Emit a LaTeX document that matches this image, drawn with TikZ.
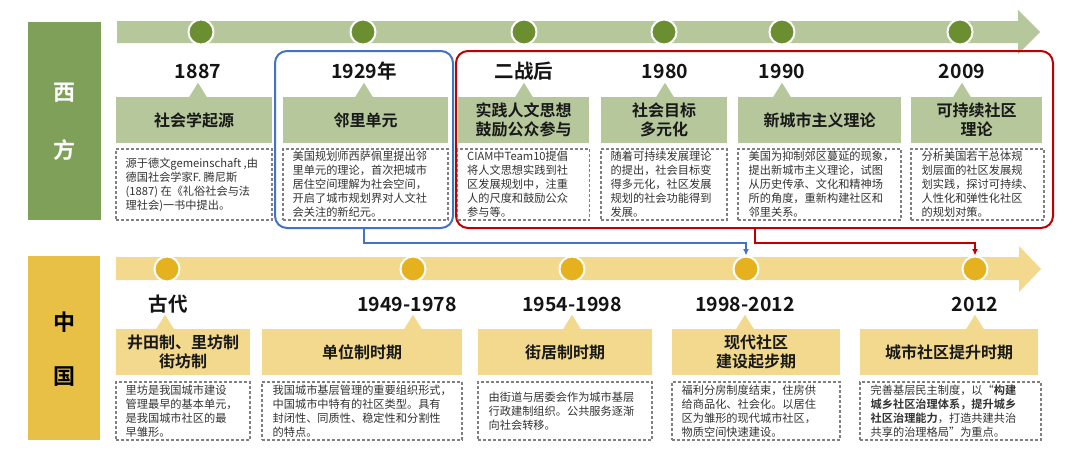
\documentclass[tikz,border=0pt]{standalone}
\usepackage{fontspec}
\setmainfont{Noto Sans CJK SC}[BoldFont={Noto Sans CJK SC Bold}]
\usetikzlibrary{arrows.meta}
\definecolor{gSide}{HTML}{7FA059}
\definecolor{gDark}{HTML}{6B8E31}
\definecolor{gLight}{HTML}{B5C79B}
\definecolor{ySide}{HTML}{E8C046}
\definecolor{yDark}{HTML}{E5B11E}
\definecolor{yLight}{HTML}{F2D98E}
\definecolor{bBlue}{HTML}{4472C4}
\definecolor{rRed}{HTML}{C00000}
\definecolor{txtGray}{HTML}{333333}
\definecolor{dashGray}{HTML}{808080}
\begin{document}
\begin{tikzpicture}[x=1pt,y=-1pt,
  sidetext/.style={font=\fontsize{22}{24}\selectfont\bfseries, inner sep=0},
  circ/.style={circle, fill=#1, draw=white, line width=2pt, minimum size=25pt, inner sep=0},
  yearlbl/.style={font=\fontsize{19.5}{22}\selectfont\bfseries, text=black!92, inner sep=0},
  ttlbox/.style={fill=#1, minimum height=46pt, inner sep=0, align=center,
    font=\fontsize{16}{19.5}\selectfont\bfseries, text=black!90},
  descbox/.style={draw=dashGray, dashed, dash pattern=on 3pt off 2pt, line width=1.1pt, minimum height=#1, inner sep=0},
  desctext/.style={anchor=west, align=left, inner sep=0, text=txtGray,
    font=\fontsize{11.2}{13.9}\selectfont},
  frame/.style={draw=#1, line width=2pt, rounded corners=12pt, inner sep=0},
  link/.style={draw=#1, line width=2pt, -{Latex[length=6.5pt,width=6pt]}}
]
\fill[white] (0,0) rectangle (1080,456);
\useasboundingbox (0,0) rectangle (1080,456);

% ================= WEST =================
\node[fill=gSide, minimum width=73pt, minimum height=198pt, inner sep=0] (wside) at (64.5,121) {};
\node[sidetext, text=white] (w1) at (64.5,93) {西};
\node[sidetext, text=white] (w2) at (64.5,150) {方};

\fill[gLight] (117,21) -- (1018,21) -- (1018,10) -- (1040,32) -- (1018,54) -- (1018,43) -- (117,43) -- cycle;

\node[circ=gDark] (c1) at (201,32) {};
\node[circ=gDark] (c2) at (363,32) {};
\node[circ=gDark] (c3) at (524,32) {};
\node[circ=gDark] (c4) at (664,32) {};
\node[circ=gDark] (c5) at (782,32) {};
\node[circ=gDark] (c6) at (960,32) {};

\node[frame=bBlue, minimum width=178pt, minimum height=177pt] (blue) at (364,139.5) {};
\node[frame=rRed, minimum width=597pt, minimum height=177pt] (red) at (754.5,139.5) {};

\node[yearlbl] (y1) at (198,71) {1887};
\node[yearlbl] (y2) at (364,71) {1929年};
\node[yearlbl] (y3) at (524,71) {二战后};
\node[yearlbl] (y4) at (665,71) {1980};
\node[yearlbl] (y5) at (782,71) {1990};
\node[yearlbl] (y6) at (962,71) {2009};

\node[ttlbox=gLight, minimum width=156pt] (h1) at (194,120) {社会学起源};
\node[ttlbox=gLight, minimum width=165pt] (h2) at (365.5,120) {邻里单元};
\node[ttlbox=gLight, minimum width=131pt] (h3) at (523.5,120) {实践人文思想\\鼓励公众参与};
\node[ttlbox=gLight, minimum width=126pt] (h4) at (664,120) {社会目标\\多元化};
\node[ttlbox=gLight, minimum width=163pt] (h5) at (819.5,120) {新城市主义理论};
\node[ttlbox=gLight, minimum width=131pt] (h6) at (976.5,120) {可持续社区\\理论};

\foreach \y/\h in {y1/h1,y2/h2,y3/h3,y4/h4,y5/h5,y6/h6}{
  \fill[gLight] (\y |- \h.north) +(-9,0.5) -- +(0,-14) -- +(9,0.5) -- cycle;
}

\node[descbox=71pt, minimum width=156pt] (d1) at (194,184.5) {};
\node[descbox=71pt, minimum width=165pt] (d2) at (365.5,184.5) {};
\node[descbox=71pt, minimum width=132pt] (d3) at (523.5,184.5) {};
\node[descbox=71pt, minimum width=126pt] (d4) at (664,184.5) {};
\node[descbox=71pt, minimum width=163pt] (d5) at (819.5,184.5) {};
\node[descbox=71pt, minimum width=133pt] (d6) at (977.5,184.5) {};

\node[desctext] (t1) at ([xshift=10pt]d1.west) {源于德文gemeinschaft ,由\\德国社会学家F. 腾尼斯\\(1887) 在《礼俗社会与法\\理社会)一书中提出。};
\node[desctext] (t2) at ([xshift=10pt]d2.west) {美国规划师西萨佩里提出邻\\里单元的理论，首次把城市\\居住空间理解为社会空间，\\开启了城市规划界对人文社\\会关注的新纪元。};
\node[desctext] (t3) at ([xshift=10pt]d3.west) {CIAM中Team10提倡\\将人文思想实践到社\\区发展规划中，注重\\人的尺度和鼓励公众\\参与等。};
\node[desctext] (t4) at ([xshift=10pt]d4.west) {随着可持续发展理论\\的提出，社会目标变\\得多元化，社区发展\\规划的社会功能得到\\发展。};
\node[desctext] (t5) at ([xshift=11pt]d5.west) {美国为抑制郊区蔓延的现象，\\提出新城市主义理论，试图\\从历史传承、文化和精神场\\所的角度，重新构建社区和\\邻里关系。};
\node[desctext] (t6) at ([xshift=11pt]d6.west) {分析美国若干总体规\\划层面的社区发展规\\划实践，探讨可持续、\\人性化和弹性化社区\\的规划对策。};

% ================= CHINA =================
\node[fill=ySide, minimum width=72pt, minimum height=184pt, inner sep=0] (cside) at (64,348) {};
\node[sidetext, text=black] (z1) at (64,322) {中};
\node[sidetext, text=black] (z2) at (64,377) {国};

\fill[yLight] (116,257) -- (1019,257) -- (1019,246) -- (1041,269) -- (1019,292) -- (1019,280) -- (116,280) -- cycle;

\node[circ=yDark] (e1) at (167,269) {};
\node[circ=yDark] (e2) at (413,269) {};
\node[circ=yDark] (e3) at (572,269) {};
\node[circ=yDark] (e4) at (746,269) {};
\node[circ=yDark] (e5) at (975,269) {};

\node[yearlbl] (x1) at (168,304) {古代};
\node[yearlbl] (x2) at (407,304) {1949-1978};
\node[yearlbl] (x3) at (572,304) {1954-1998};
\node[yearlbl] (x4) at (745,304) {1998-2012};
\node[yearlbl] (x5) at (975,304) {2012};

\node[ttlbox=yLight, minimum width=134pt] (k1) at (183,352) {井田制、里坊制\\街坊制};
\node[ttlbox=yLight, minimum width=200pt] (k2) at (362,352) {单位制时期};
\node[ttlbox=yLight, minimum width=174pt] (k3) at (565,352) {街居制时期};
\node[ttlbox=yLight, minimum width=168pt] (k4) at (756,352) {现代社区\\建设起步期};
\node[ttlbox=yLight, minimum width=178pt] (k5) at (949,352) {城市社区提升时期};

\foreach \e/\k/\dx in {e1/k1/-2,e2/k2/0,e3/k3/0,e4/k4/-1,e5/k5/0}{
  \fill[yLight] ([xshift=\dx pt]\e |- \k.north) +(-9,0.5) -- +(0,-14) -- +(9,0.5) -- cycle;
}

\node[descbox=58pt, minimum width=134pt] (f1) at (183,411) {};
\node[descbox=58pt, minimum width=200pt] (f2) at (362,411) {};
\node[descbox=58pt, minimum width=174pt] (f3) at (565,411) {};
\node[descbox=58pt, minimum width=168pt] (f4) at (756,411) {};
\node[descbox=58pt, minimum width=181pt] (f5) at (950.5,411) {};

\node[desctext] (s1) at ([xshift=10pt]f1.west) {里坊是我国城市建设\\管理最早的基本单元，\\是我国城市社区的最\\早雏形。};
\node[desctext] (s2) at ([xshift=11pt]f2.west) {我国城市基层管理的重要组织形式，\\中国城市中特有的社区类型。具有\\封闭性、同质性、稳定性和分割性\\的特点。};
\node[desctext] (s3) at ([xshift=11pt]f3.west) {由街道与居委会作为城市基层\\行政建制组织。公共服务逐渐\\向社会转移。};
\node[desctext] (s4) at ([xshift=10pt]f4.west) {福利分房制度结束，住房供\\给商品化、社会化。以居住\\区为雏形的现代城市社区，\\物质空间快速建设。};
\node[desctext] (s5) at ([xshift=11pt]f5.west) {完善基层民主制度，以“\textbf{构建}\\\textbf{城乡社区治理体系，提升城乡}\\\textbf{社区治理能力}，打造共建共治\\共享的治理格局”为重点。};

% ================= LINKS =================
\draw[link=bBlue] (blue.south) -- ++(0,13.5) -| (e4.north);
\draw[link=rRed] (red.south) -- ++(0,13.5) -| (e5.north);
\end{tikzpicture}
\end{document}
